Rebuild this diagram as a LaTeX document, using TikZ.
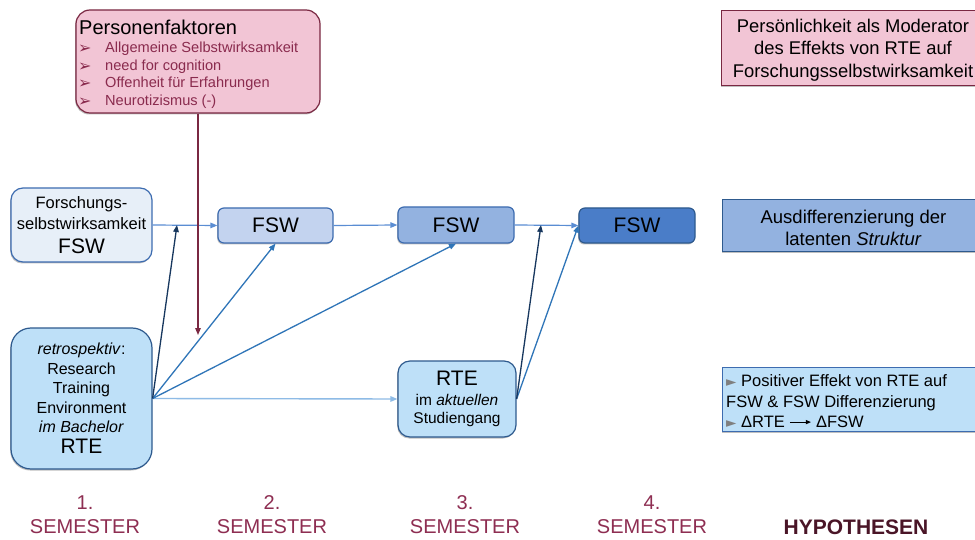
\documentclass[tikz,border=0pt]{standalone}
\usepackage{fontspec}
\setmainfont{Liberation Sans}
\newfontfamily\symfont{DejaVu Sans}
\usetikzlibrary{arrows.meta,shadows,calc}
\definecolor{pinkfill}{HTML}{F2C5D5}
\definecolor{mymaroon}{HTML}{7A2842}
\definecolor{itemc}{HTML}{8A2B4E}
\definecolor{semc}{HTML}{8E2E52}
\definecolor{hypc}{HTML}{4A1527}
\definecolor{bord}{HTML}{3D6CB0}
\definecolor{darkbord}{HTML}{2E5A8E}
\definecolor{fswA}{HTML}{E7EFF8}
\definecolor{fswB}{HTML}{C3D3EF}
\definecolor{fswC}{HTML}{93B2E0}
\definecolor{fswD}{HTML}{4A7DC8}
\definecolor{rtefill}{HTML}{BEE0F8}
\definecolor{navy}{HTML}{17375E}
\definecolor{arrblue}{HTML}{2F75B8}
\definecolor{chainblue}{HTML}{5A8DD3}
\definecolor{lightarr}{HTML}{8EBBE6}
\definecolor{bulletgray}{HTML}{7F7F7F}
\tikzset{
  shad/.style={drop shadow={shadow xshift=-0.8pt, shadow yshift=-1.5pt, opacity=0.25, fill=black}},
  box/.style={draw, line width=1.2pt, inner sep=0pt, align=center, shad},
  txt/.style={inner sep=0pt},
  tip/.style={-{Triangle[length=7pt,width=5.5pt]}},
  chain/.style={tip, draw=chainblue, line width=1.2pt},
  blue arrow/.style={tip, draw=arrblue, line width=1.3pt},
  light arrow/.style={tip, draw=lightarr, line width=1.4pt},
  mod arrow/.style={tip, draw=navy, line width=1.3pt},
  mar arrow/.style={tip, draw=mymaroon, line width=1.3pt},
  fswfont/.style={font=\fontsize{21}{24}\selectfont},
  semlabel/.style={txt, text=semc, align=center, font=\fontsize{20}{24}\selectfont},
}
\newcommand{\graybullet}{{\color{bulletgray}\symfont\fontsize{13.5}{12}\selectfont ►}}
\begin{document}
\begin{tikzpicture}[x=1pt,y=-1pt]
\clip (0,0) rectangle (975,540);
\fill[white] (0,0) rectangle (975,540);

% Personenfaktoren
\node[box, fill=pinkfill, draw=mymaroon, rounded corners=14pt, minimum width=244pt, minimum height=103pt] (pf) at (198,61.5) {};
\node[txt, anchor=base west, font=\fontsize{20}{24}\selectfont] (pft) at (79,35) {Personenfaktoren};
\foreach \i/\y/\t in {1/53/{Allgemeine Selbstwirksamkeit},2/71/{need for cognition},3/88/{Offenheit für Erfahrungen},4/106/{Neurotizismus (-)}}{
  \node[txt, anchor=base west, text=itemc, font=\symfont\fontsize{16}{14}\selectfont] (pb\i) at (78,\y+0.5) {➢};
  \node[txt, anchor=base west, text=itemc, font=\fontsize{14.6}{17.7}\selectfont] (pi\i) at (105,\y) {\t};
}

% Hypothesis boxes
\node[box, fill=pinkfill, draw=mymaroon, anchor=north west, minimum width=275pt, minimum height=75pt] (h1) at (721,10) {};
\node[txt, align=center, font=\fontsize{18.4}{22.5}\selectfont] (h1t) at (853,50) {Persönlichkeit als Moderator\\des Effekts von RTE auf\\Forschungsselbstwirksamkeit};

\node[box, fill=fswC, draw=darkbord, anchor=north west, minimum width=275pt, minimum height=52pt] (h2) at (722,199) {};
\node[txt, align=center, font=\fontsize{18.5}{21.5}\selectfont] (h2t) at (853.5,228) {Ausdifferenzierung der\\latenten \textit{Struktur}};

\node[box, fill=rtefill, draw=bord, anchor=north west, minimum width=275pt, minimum height=64pt] (h3) at (722,367) {};
\node[txt, align=left, anchor=west, font=\fontsize{16.5}{20.5}\selectfont] (h3t) at (726,401.5) {\graybullet\hspace{0pt} Positiver Effekt von RTE auf\\FSW \& FSW Differenzierung\\\graybullet\hspace{0pt} ΔRTE \tikz[baseline=-5.8pt,x=1pt,y=1pt]\draw[line width=1pt,-{Triangle[length=5pt,width=4pt]}] (0,0)--(21,0); ΔFSW};

% FSW chain
\node[box, fill=fswA, draw=bord, rounded corners=12pt, minimum width=141pt, minimum height=74pt, font=\fontsize{16.5}{21}\selectfont] (fb) at (81.5,225) {Forschungs-\\selbstwirksamkeit\\[3pt]{\fontsize{21}{24}\selectfont FSW}};
\node[box, fill=fswB, draw=bord, rounded corners=6pt, minimum width=115pt, minimum height=35pt, fswfont] (f2) at (275.5,225.5) {FSW};
\node[box, fill=fswC, draw=bord, rounded corners=6pt, minimum width=116pt, minimum height=36pt, fswfont] (f3) at (456,225) {FSW};
\node[box, fill=fswD, draw=darkbord, rounded corners=6pt, minimum width=116pt, minimum height=35pt, fswfont] (f4) at (637,225.5) {FSW};

% RTE boxes
\node[box, fill=rtefill, draw=darkbord, rounded corners=20pt, minimum width=141pt, minimum height=141pt, font=\fontsize{16}{19.5}\selectfont] (rte1) at (81.5,398.5) {\textit{retrospektiv}:\\Research\\Training\\Environment\\\textit{im Bachelor}\\[1.5pt]{\fontsize{21}{24}\selectfont RTE}};
\node[box, fill=rtefill, draw=darkbord, rounded corners=12pt, minimum width=118pt, minimum height=76pt, font=\fontsize{15.5}{18.5}\selectfont] (rte2) at (457,399) {{\fontsize{21}{24}\selectfont RTE}\\[1pt]im \textit{aktuellen}\\Studiengang};

% connectors
\coordinate (m1) at (177,225);
\coordinate (m2) at (541,225);
\coordinate (pm) at (198,335);
\draw[chain] (fb.east) -- (f2.west);
\draw[chain] (f2.east) -- (f3.west);
\draw[chain] (f3.east) -- (f4.west);
\draw[mar arrow] (pf.south) -- (pm);
\draw[light arrow] (rte1.east) -- (rte2.west);
\draw[blue arrow] (rte1.east) -- (f2.south);
\draw[blue arrow] (rte1.east) -- (f3.south);
\draw[mod arrow] (rte1.east) -- (m1);
\draw[blue arrow] (rte2.east) -- (f4.west);
\draw[mod arrow] (rte2.east) -- (m2);

% bottom labels
\node[semlabel] (s1) at (85,515) {1.\\SEMESTER};
\node[semlabel] (s2) at (272,515) {2.\\SEMESTER};
\node[semlabel] (s3) at (465,515) {3.\\SEMESTER};
\node[semlabel] (s4) at (652,515) {4.\\SEMESTER};
\node[txt, text=hypc, font=\bfseries\fontsize{21}{24}\selectfont] (hyp) at (856,527) {HYPOTHESEN};
\end{tikzpicture}
\end{document}
